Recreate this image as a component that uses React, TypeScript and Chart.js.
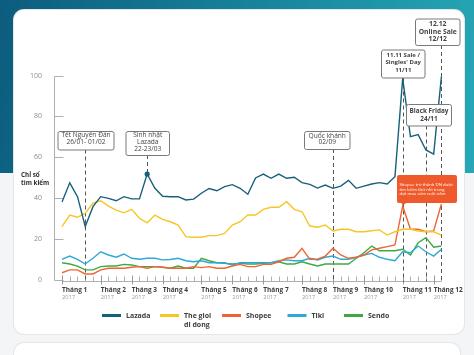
import React, { useEffect, useRef } from "react";
import { Chart, registerables } from "chart.js";

Chart.register(...registerables);

// ---------- DATA ----------
const weeks = [
  "W1", "W2", "W3", "W4", "W5", "W6", "W7", "W8", "W9", "W10",
  "W11", "W12", "W13", "W14", "W15", "W16", "W17", "W18", "W19", "W20",
  "W21", "W22", "W23", "W24", "W25", "W26", "W27", "W28", "W29", "W30",
  "W31", "W32", "W33", "W34", "W35", "W36", "W37", "W38", "W39", "W40",
  "W41", "W42", "W43", "W44", "W45", "W46", "W47", "W48", "W49", "W50",
];

const lazada = [
  38, 47.4, 40.6, 26, 35.7, 40.6, 39.8, 38.6, 40.6, 39.5,
  39.5, 51.7, 44.7, 40.8, 40.6, 40.6, 39, 39.4, 42.3, 44.6,
  43.5, 45.5, 46.5, 44.7, 41.8, 49.8, 51.7, 49.6, 51.7, 49.6,
  50.1, 47.5, 46.6, 44.8, 46.3, 44.7, 45.8, 48.6, 44.7, 45.8,
  46.8, 47.5, 46.8, 50.4, 98.6, 70, 71, 63.5, 61.5, 99.4,
];
const theGioiDiDong = [
  25.9, 31.6, 30.5, 32.5, 37.4, 38.6, 36, 34, 32.7, 34.4,
  30, 27.8, 31.6, 29.5, 28.3, 26.7, 21, 20.7, 20.7, 21.5,
  21.5, 22.6, 26.7, 28.3, 31.6, 31.6, 34.4, 35.4, 35.4, 38.1,
  34.4, 33.2, 26.2, 25.6, 26.7, 23.8, 24.6, 24.6, 23.4, 23.4,
  23.9, 24.3, 21.8, 23.4, 24.6, 24.6, 23.8, 23.4, 23.4, 21.8,
];
const shopee = [
  3.3, 4.7, 4.7, 2.7, 2.7, 4.7, 5.5, 5.5, 5.5, 6,
  6.3, 5.5, 6.3, 6, 5.5, 5.5, 5.5, 6.3, 5.8, 6.3,
  5.5, 5.5, 6.6, 7.4, 6.3, 6.3, 7.4, 7.4, 8.7, 10.4,
  10.9, 15.3, 9.9, 10, 11.5, 15.3, 12, 10.4, 10.9, 12,
  14.5, 15.3, 16.1, 16.9, 36, 24.6, 24.6, 23.4, 23.8, 37,
];
const tiki = [
  9.9, 11.5, 9.9, 7.6, 10.4, 13.6, 12, 10.9, 12.5, 10.4,
  9.9, 10.4, 10.4, 9.6, 9.8, 10.4, 9.2, 8.7, 9.2, 8.2,
  8.2, 8.2, 7.1, 8.2, 8.2, 8.2, 8.2, 8.2, 9.2, 9.6,
  9.2, 9.2, 10.4, 9.6, 10.9, 11.5, 9.9, 9.9, 10.9, 12,
  12.8, 10.9, 9.9, 9.2, 13.6, 13.1, 16.4, 13.6, 11.5, 14.8,
];
const sendo = [
  8.2, 7.6, 6.6, 4.7, 4.7, 6.3, 6.6, 6.6, 7.4, 7.1,
  6.3, 6.3, 6.3, 6, 5.5, 6.6, 5.5, 5.5, 10.4, 9.2,
  8.2, 7.9, 7.6, 7.9, 7.6, 7.6, 7.9, 8.2, 8.7, 7.6,
  7.6, 8.7, 7.6, 6.6, 7.6, 7.6, 7.6, 7.6, 10.4, 13.1,
  16.4, 14.1, 14.1, 14.1, 14.8, 12, 18, 20.5, 15.8, 16.4,
];

const seriesNames = ["Lazada", "The gioi di dong", "Shopee", "Tiki", "Sendo"];
const legendLines = [["Lazada"], ["The gioi", "di dong"], ["Shopee"], ["Tiki"], ["Sendo"]];

const yTicks = [0, 20, 40, 60, 80, 100];
const yAxisTitle = ["Chỉ số", "tìm kiếm"];

const monthTickIndex = [0, 5, 9, 13, 18, 22, 26, 31, 35, 39, 44, 48];
const monthLabels = [
  "Tháng 1", "Tháng 2", "Tháng 3", "Tháng 4", "Tháng 5", "Tháng 6",
  "Tháng 7", "Tháng 8", "Tháng 9", "Tháng 10", "Tháng 11", "Tháng 12",
];
const yearLabel = "2017";

const eventLabels = [
  ["Tết Nguyên Đán", "26/01- 01/02"],
  ["Sinh nhật", "Lazada", "22-23/03"],
  ["Quốc khánh", "02/09"],
  ["11.11 Sale /", "Singles' Day", "11/11"],
  ["Black Friday", "24/11"],
  ["12.12", "Online Sale", "12/12"],
];
const eventIndex = [3, 11, 35, 44, 47, 49];
const markerIndex = 11;

const calloutText = ["Shopee trở thành DN được", "tìm kiếm thứ nhì trong", "đợt mua sắm cuối năm"];
const calloutIndex = 44;

// ---------- STYLE / LAYOUT ----------
const W = 474;
const H = 355;
const FONT = '"Open Sans", "Noto Sans", sans-serif';
const COLORS = ["#17607c", "#f6c624", "#ef6532", "#2ea8d8", "#3fa843"];
const AXIS_Y = 281.5;
const AXIS_X = 54.5;

const BOXES = [
  { x: 57.5, y: 131, w: 56, h: 18.5, ys: [135.6, 142.6], bold: false, size: 6.6, toMarker: false },
  { x: 125.5, y: 131, w: 43.5, h: 24, ys: [135, 142, 149], bold: false, size: 6.6, toMarker: true },
  { x: 304, y: 131, w: 45.5, h: 18, ys: [135.8, 142.4], bold: false, size: 6.6, toMarker: false },
  { x: 381, y: 49.5, w: 43.5, h: 28, ys: [55.2, 62.6, 70], bold: true, size: 6, toMarker: false },
  { x: 406, y: 104, w: 45, h: 21.5, ys: [111.6, 119], bold: true, size: 6.4, toMarker: false },
  { x: 415, y: 18.5, w: 44.5, h: 26.5, ys: [24.3, 31.8, 39], bold: true, size: 6.8, toMarker: false },
];
const CALLOUT = { x: 397, y: 175, w: 60, h: 28, textX: 399.5, ys: [185, 189.6, 194.2], size: 4.3 };
const LEGEND_X = [102, 160, 222, 287.5, 344];
const LEGEND_Y = 315.5;

function roundRect(ctx: CanvasRenderingContext2D, x: number, y: number, w: number, h: number, r: number) {
  ctx.beginPath();
  ctx.moveTo(x + r, y);
  ctx.lineTo(x + w - r, y);
  ctx.arcTo(x + w, y, x + w, y + r, r);
  ctx.lineTo(x + w, y + h - r);
  ctx.arcTo(x + w, y + h, x + w - r, y + h, r);
  ctx.lineTo(x + r, y + h);
  ctx.arcTo(x, y + h, x, y + h - r, r);
  ctx.lineTo(x, y + r);
  ctx.arcTo(x, y, x + r, y, r);
  ctx.closePath();
}

const decorPlugin = {
  id: "decor",
  beforeDatasetsDraw(chart: any) {
    const ctx: CanvasRenderingContext2D = chart.ctx;
    const xs = chart.scales.x;
    const ys = chart.scales.y;
    ctx.save();
    // y axis line and inward ticks
    ctx.strokeStyle = "#b0b0b0";
    ctx.lineWidth = 1;
    ctx.beginPath();
    ctx.moveTo(AXIS_X, Math.round(ys.getPixelForValue(100)) + 0.5);
    ctx.lineTo(AXIS_X, Math.round(ys.getPixelForValue(0)) + 0.5);
    yTicks.forEach((v) => {
      const y = Math.round(ys.getPixelForValue(v)) + 0.5;
      ctx.moveTo(AXIS_X, y);
      ctx.lineTo(AXIS_X + 9, y);
    });
    ctx.stroke();

    // x axis line + ticks
    const x0 = xs.getPixelForValue(0);
    const x1 = xs.getPixelForValue(weeks.length - 1);
    ctx.beginPath();
    ctx.moveTo(x0, AXIS_Y);
    ctx.lineTo(x1, AXIS_Y);
    weeks.forEach((_, i) => {
      const x = Math.round(xs.getPixelForValue(i)) + 0.5;
      ctx.moveTo(x, AXIS_Y - 5);
      ctx.lineTo(x, AXIS_Y);
    });
    ctx.stroke();
    ctx.strokeStyle = "#999";
    ctx.beginPath();
    monthTickIndex.forEach((i) => {
      const x = Math.round(xs.getPixelForValue(i)) + 0.5;
      ctx.moveTo(x, AXIS_Y - 6);
      ctx.lineTo(x, AXIS_Y + 3);
    });
    ctx.stroke();

    // month labels
    ctx.textAlign = "left";
    ctx.textBaseline = "middle";
    monthTickIndex.forEach((i, k) => {
      const x = xs.getPixelForValue(i);
      ctx.fillStyle = "#3d3d3d";
      ctx.font = `bold 6.5px ${FONT}`;
      ctx.fillText(monthLabels[k], x, 290);
      ctx.fillStyle = "#9a9a9a";
      ctx.font = `5.8px ${FONT}`;
      ctx.fillText(yearLabel, x, 297.5);
    });

    // y axis title
    ctx.fillStyle = "#2e2e2e";
    ctx.font = `bold 6.3px ${FONT}`;
    ctx.fillText(yAxisTitle[0], 21, 175.5);
    ctx.fillText(yAxisTitle[1], 21, 183);

    // dashed event lines
    ctx.strokeStyle = "#555";
    ctx.lineWidth = 1;
    ctx.setLineDash([4, 3]);
    eventIndex.forEach((idx, k) => {
      const b = BOXES[k];
      const x = Math.round(xs.getPixelForValue(idx)) + 0.5;
      const yEnd = b.toMarker ? ys.getPixelForValue(lazada[markerIndex]) - 2 : AXIS_Y;
      ctx.beginPath();
      ctx.moveTo(x, b.y + b.h);
      ctx.lineTo(x, yEnd);
      ctx.stroke();
    });
    ctx.setLineDash([]);

    // legend
    ctx.lineWidth = 3;
    legendLines.forEach((lines, k) => {
      const lx = LEGEND_X[k];
      ctx.strokeStyle = COLORS[k];
      ctx.beginPath();
      ctx.moveTo(lx, LEGEND_Y);
      ctx.lineTo(lx + 19, LEGEND_Y);
      ctx.stroke();
      ctx.fillStyle = "#3d3d3d";
      ctx.font = `bold 7px ${FONT}`;
      lines.forEach((t, j) => ctx.fillText(t, lx + 24, LEGEND_Y + j * 9));
    });
    ctx.restore();
  },
  afterDatasetsDraw(chart: any) {
    const ctx: CanvasRenderingContext2D = chart.ctx;
    const xs = chart.scales.x;
    const ys = chart.scales.y;
    ctx.save();
    // event boxes
    BOXES.forEach((b, k) => {
      roundRect(ctx, b.x + 0.5, b.y + 0.5, b.w, b.h, 2);
      ctx.fillStyle = "#ffffff";
      ctx.fill();
      ctx.strokeStyle = "#7a7a7a";
      ctx.lineWidth = 1;
      ctx.stroke();
      ctx.fillStyle = "#444";
      ctx.font = `${b.bold ? "bold " : ""}${b.size}px ${FONT}`;
      ctx.textAlign = "center";
      ctx.textBaseline = "middle";
      eventLabels[k].forEach((t, j) => ctx.fillText(t, b.x + b.w / 2 + 0.5, b.ys[j]));
    });

    // Shopee callout
    const c = CALLOUT;
    const tipX = xs.getPixelForValue(calloutIndex);
    const tipY = ys.getPixelForValue(shopee[calloutIndex]) - 1;
    ctx.fillStyle = "#f0592b";
    roundRect(ctx, c.x, c.y, c.w, c.h, 2);
    ctx.fill();
    ctx.beginPath();
    ctx.moveTo(tipX - 2, c.y + c.h - 1);
    ctx.lineTo(tipX + 6, c.y + c.h - 1);
    ctx.lineTo(tipX, tipY);
    ctx.closePath();
    ctx.fill();
    ctx.fillStyle = "#ffffff";
    ctx.font = `${c.size}px ${FONT}`;
    ctx.textAlign = "left";
    ctx.textBaseline = "middle";
    calloutText.forEach((t, j) => ctx.fillText(t, c.textX, c.ys[j]));
    ctx.restore();
  },
};

export default function App() {
  const canvasRef = useRef<HTMLCanvasElement | null>(null);

  useEffect(() => {
    document.body.style.margin = "0";
    const canvas = canvasRef.current;
    if (!canvas) return;
    const series = [lazada, theGioiDiDong, shopee, tiki, sendo];
    const chart = new Chart(canvas, {
      type: "line",
      data: {
        labels: weeks,
        datasets: series.map((d, k) => ({
          label: seriesNames[k],
          data: d,
          borderColor: COLORS[k],
          backgroundColor: COLORS[k],
          borderWidth: 1.4,
          tension: 0,
          fill: false,
          pointRadius: k === 0 ? d.map((_, i) => (i === markerIndex ? 2.6 : 0)) : 0,
          pointBackgroundColor: COLORS[k],
          pointBorderWidth: 0,
        })),
      },
      options: {
        responsive: false,
        animation: false,
        devicePixelRatio: 1,
        layout: { padding: { left: 0, right: 32.6, top: 75.5, bottom: H - 279.5 } },
        plugins: { legend: { display: false }, tooltip: { enabled: false } },
        scales: {
          x: { type: "category", display: false, offset: false },
          y: {
            min: 0,
            max: 100,
            afterBuildTicks: (s: any) => {
              s.ticks = yTicks.map((v) => ({ value: v }));
            },
            afterFit: (s: any) => {
              s.width = 62;
            },
            grid: { display: false },
            border: { display: false },
            ticks: {
              padding: 12,
              color: "#8c8c8c",
              font: { family: FONT, size: 7 },
            },
          },
        },
      },
      plugins: [decorPlugin],
    } as any);
    return () => chart.destroy();
  }, []);

  return (
    <div style={{ position: "relative", width: W, height: H, overflow: "hidden", background: "#f4f5f6" }}>
      <div
        style={{
          position: "absolute",
          left: 0,
          top: 0,
          width: W,
          height: 173,
          background: "linear-gradient(100deg, #0c5c7e 0%, #167f98 45%, #26a8b6 100%)",
        }}
      />
      <div
        style={{
          position: "absolute",
          left: 14,
          top: 10,
          width: 450,
          height: 324,
          background: "#ffffff",
          borderRadius: 10,
          boxShadow: "0 0 0 1px #e4e6e8",
        }}
      />
      <div
        style={{
          position: "absolute",
          left: 14,
          top: 343,
          width: 446,
          height: 40,
          background: "#ffffff",
          borderRadius: 10,
          boxShadow: "0 0 0 1px #e4e6e8",
        }}
      />
      <canvas
        ref={canvasRef}
        width={W}
        height={H}
        style={{ position: "absolute", left: 0, top: 0, width: W, height: H, display: "block" }}
      />
    </div>
  );
}
